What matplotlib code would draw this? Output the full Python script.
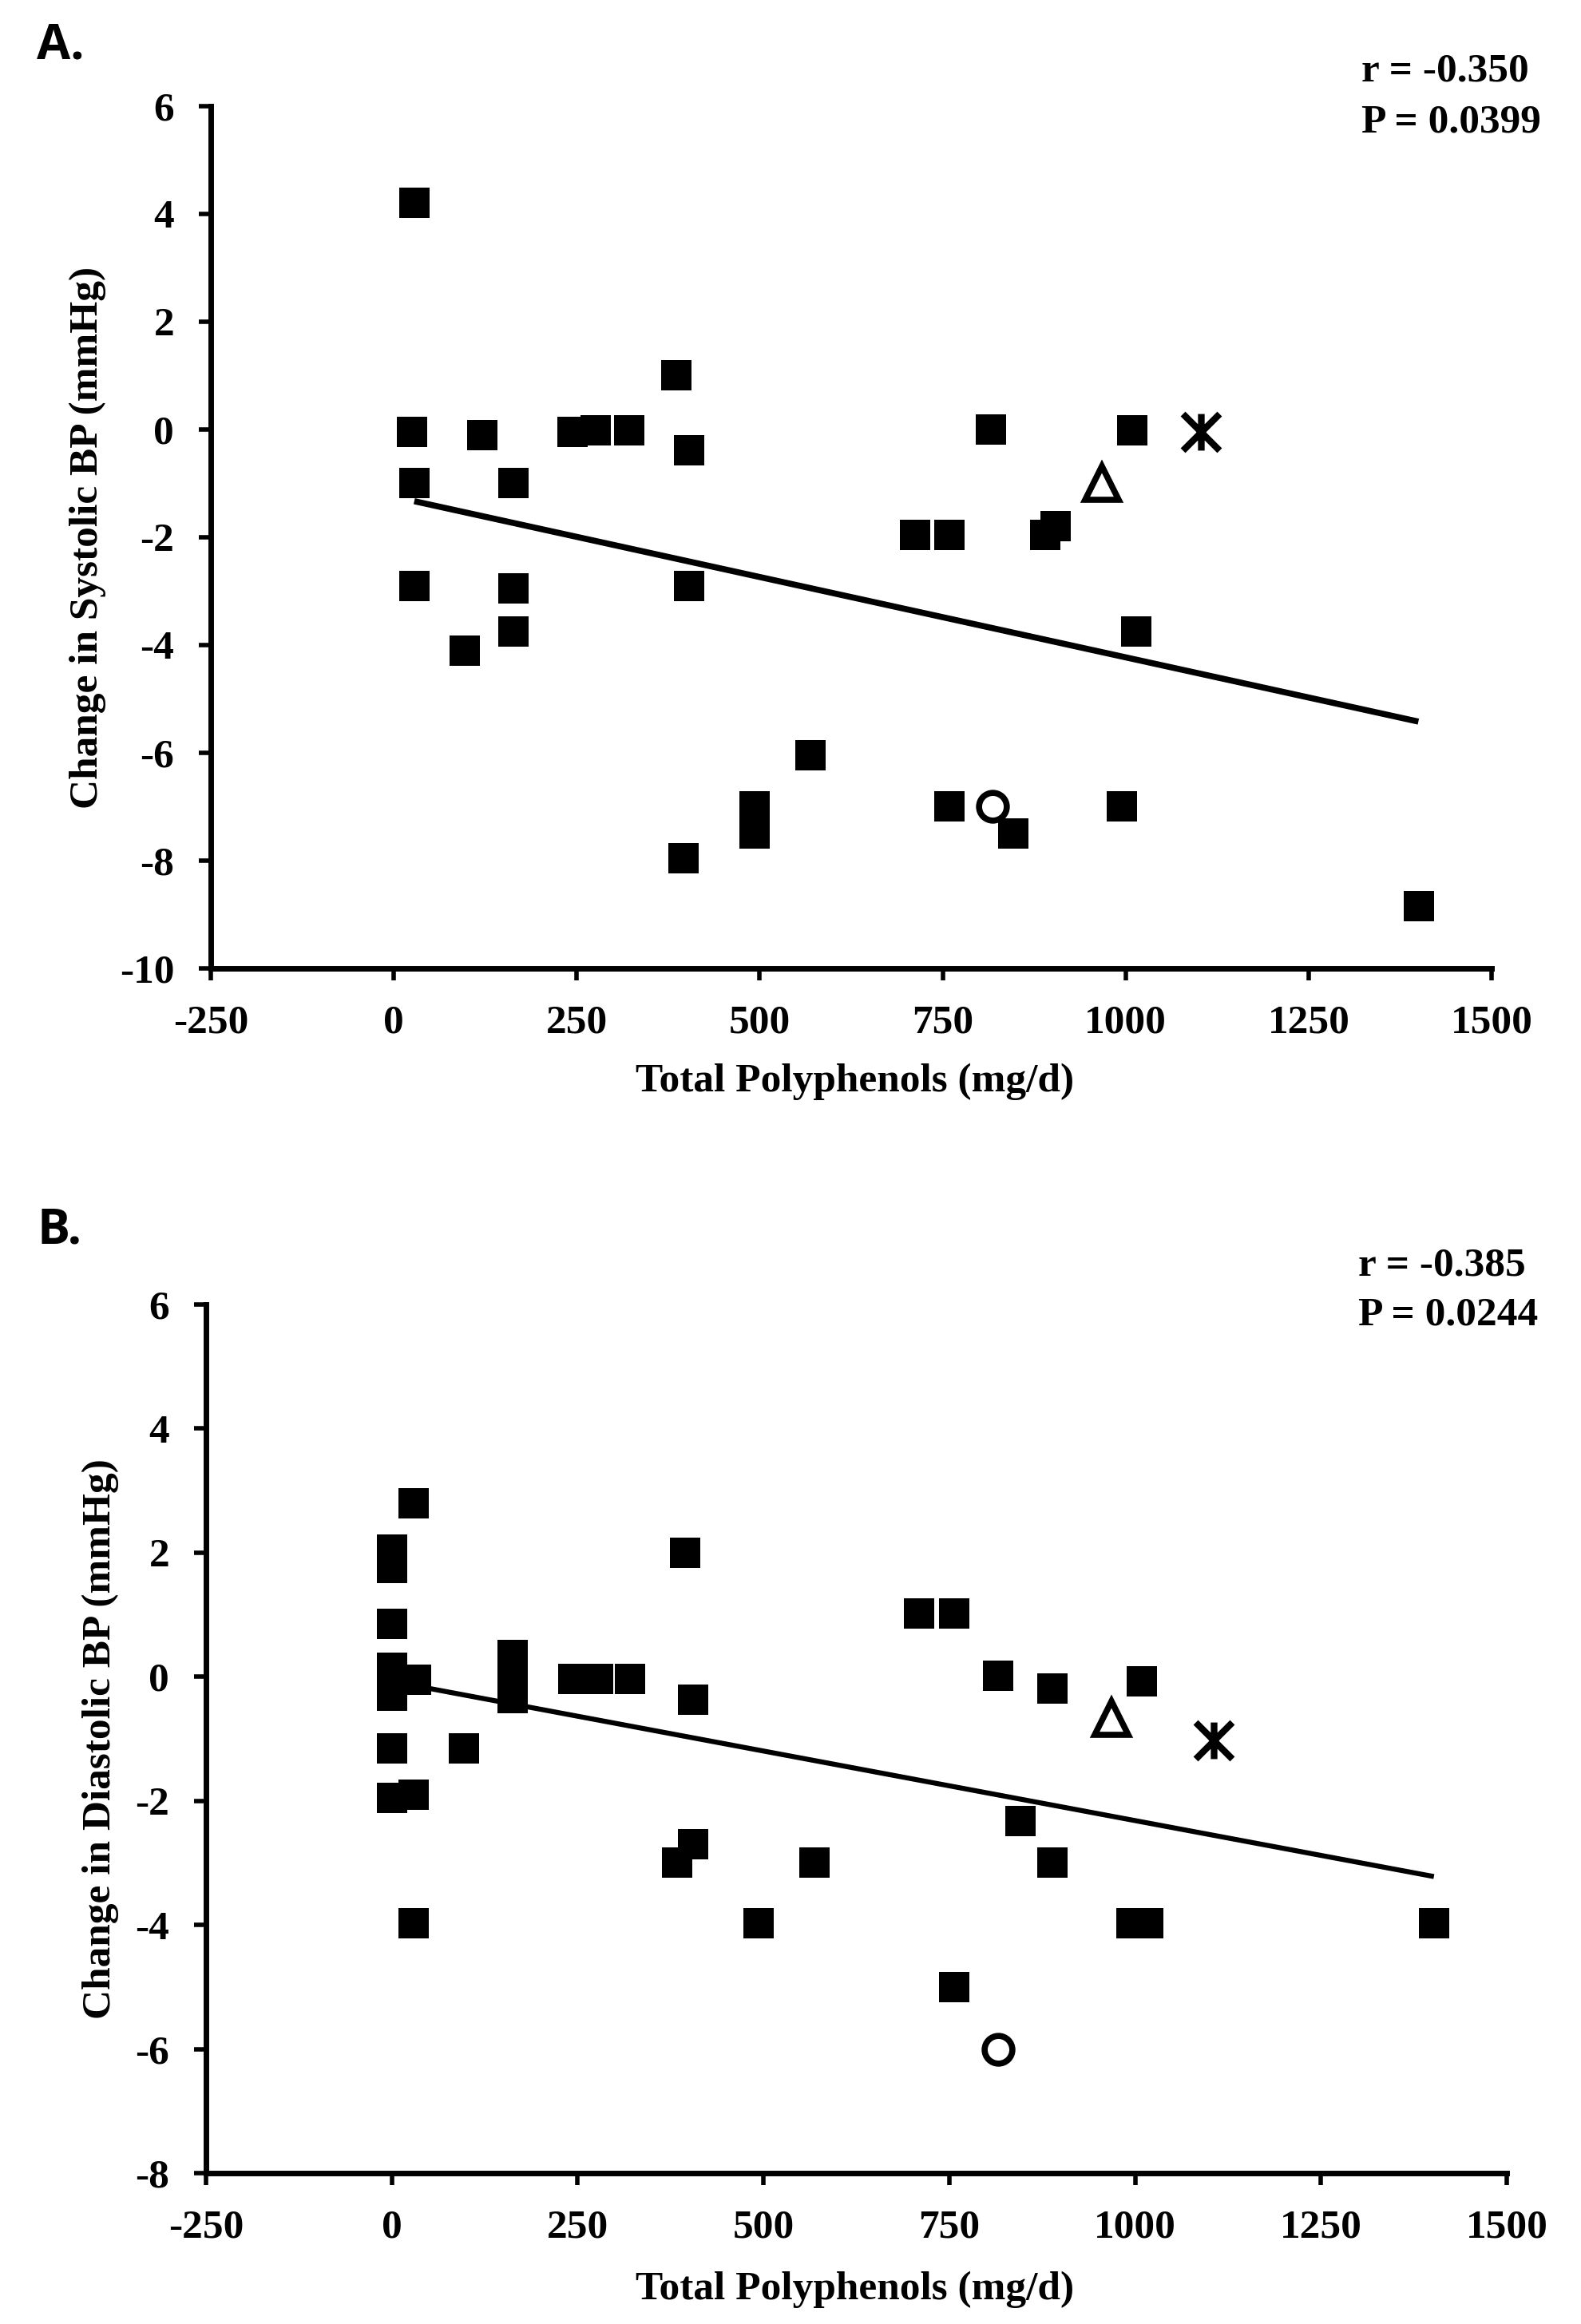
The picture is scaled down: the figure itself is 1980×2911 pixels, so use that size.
import matplotlib
matplotlib.use('Agg')
import matplotlib.pyplot as plt
from matplotlib.path import Path

# ---------------- Panel A: systolic ----------------
a_x = [28, 25, 28, 28, 97, 121, 164, 164, 164, 244,
       276, 322, 386, 404, 404, 396, 493, 493, 569, 712,
       759, 759, 816, 846, 890, 904, 1009, 995, 1014, 1401]
a_y = [4.2, -0.05, -1.0, -2.9, -4.1, -0.1, -1.0, -2.95, -3.75, -0.05,
       -0.02, -0.02, 1.0, -0.38, -2.9, -7.95, -7.0, -7.5, -6.05, -1.95,
       -1.95, -7.0, 0.0, -7.5, -1.95, -1.8, -0.02, -7.0, -3.75, -8.85]
a_circle = [818, -7.0]
a_triangle = [968, -1.0]
a_asterisk = [1103, -0.05]
a_trend_x = [28, 1400]
a_trend_y = [-1.33, -5.42]
a_stats = ["r = -0.350", "P = 0.0399"]

# ---------------- Panel B: diastolic ----------------
b_x = [0, 0, 0, 0, 0, 0, 0, 0,
       29, 33, 29, 29, 97, 163, 163, 163,
       244, 278, 320, 395, 405, 384, 405,
       493, 569, 709, 757, 757, 816, 846,
       889, 889, 1009, 995, 1018, 1402]
b_y = [2.05, 1.75, 0.85, 0.15, 0.0, -0.3, -1.15, -1.95,
       2.8, -0.05, -1.9, -3.97, -1.15, 0.35, 0.0, -0.35,
       -0.03, -0.03, -0.03, 2.0, -0.37, -3.0, -2.7,
       -3.97, -3.0, 1.02, 1.02, -5.0, 0.02, -2.32,
       -0.19, -3.0, -0.07, -3.97, -3.97, -3.97]
b_circle = [816, -6.0]
b_triangle = [968, -0.66]
b_asterisk = [1106, -1.03]
b_trend_x = [20, 1402]
b_trend_y = [-0.12, -3.22]
b_stats = ["r = -0.385", "P = 0.0244"]

x_ticks = [-250, 0, 250, 500, 750, 1000, 1250, 1500]
a_yticks = [-10, -8, -6, -4, -2, 0, 2, 4, 6]
b_yticks = [-8, -6, -4, -2, 0, 2, 4, 6]

SERIF = 'Liberation Serif'
FS = 37

asterisk_path = Path(
    [(0, -1), (0, 1), (-1, -1), (1, 1), (-1, 1), (1, -1)],
    [Path.MOVETO, Path.LINETO, Path.MOVETO, Path.LINETO, Path.MOVETO, Path.LINETO])

W, H = 1980.0, 2911.0
fig = plt.figure(figsize=(W / 100, H / 100), dpi=100)
fig.patch.set_facecolor('white')


def rect_px(l, r, t, b):
    return [l / W, 1 - b / H, (r - l) / W, (b - t) / H]


def panel(rect, xs, ys, circ, tri, ast, tx, ty, yticks, ylim, ylabel,
          xlabel_xy, ylabel_x, trend_lw):
    ax = fig.add_axes(rect)
    ax.plot(xs, ys, linestyle='none', marker='s', ms=28, mew=0, color='black',
            clip_on=False, zorder=3)
    ax.plot([circ[0]], [circ[1]], linestyle='none', marker='o', ms=25, mew=5.5,
            mfc='white', mec='black', clip_on=False, zorder=4)
    ax.plot([tri[0]], [tri[1]], linestyle='none', marker='^', ms=30, mew=5.5,
            mfc='white', mec='black', clip_on=False, zorder=4)
    ax.plot([ast[0]], [ast[1]], linestyle='none', marker=asterisk_path, ms=33,
            mew=6, mfc='none', mec='black', clip_on=False, zorder=4)
    ax.plot(tx, ty, color='black', lw=trend_lw, solid_capstyle='butt', zorder=2)
    ax.set_xlim(-250, 1500)
    ax.set_ylim(*ylim)
    ax.set_xticks(x_ticks)
    ax.set_xticklabels([str(v) for v in x_ticks])
    ax.set_yticks(yticks)
    ax.set_yticklabels([str(v) for v in yticks])
    for s in ['top', 'right']:
        ax.spines[s].set_visible(False)
    for s in ['left', 'bottom']:
        ax.spines[s].set_linewidth(5)
        ax.spines[s].set_capstyle('projecting')
    ax.tick_params(axis='both', direction='out', length=11, width=4,
                   labelsize=FS, pad=22)
    for lab in ax.get_xticklabels() + ax.get_yticklabels():
        lab.set_fontfamily(SERIF)
        lab.set_fontweight('bold')
    ax.set_facecolor('white')
    fig.text(ylabel_x, rect[1] + rect[3] / 2, ylabel, rotation=90,
             ha='center', va='center', fontsize=FS, fontweight='bold',
             family=SERIF)
    fig.text(xlabel_xy[0], xlabel_xy[1], 'Total Polyphenols (mg/d)',
             ha='center', va='center', fontsize=FS, fontweight='bold',
             family=SERIF)
    return ax


axA = panel(rect_px(264, 1868, 133, 1213), a_x, a_y, a_circle, a_triangle,
            a_asterisk, a_trend_x, a_trend_y, a_yticks, (-10, 6),
            'Change in Systolic BP (mmHg)', (1071 / W, 1 - 1355 / H),
            110 / W, 5.5)
axB = panel(rect_px(258, 1887, 1634, 2722), b_x, b_y, b_circle, b_triangle,
            b_asterisk, b_trend_x, b_trend_y, b_yticks, (-8, 6),
            'Change in Diastolic BP (mmHg)', (1071 / W, 1 - 2868 / H),
            126 / W, 4.5)

# stats text
fig.text(1705 / W, 1 - 90 / H, a_stats[0], ha='left', va='center', fontsize=FS,
         fontweight='bold', family=SERIF)
fig.text(1705 / W, 1 - 154 / H, a_stats[1], ha='left', va='center', fontsize=FS,
         fontweight='bold', family=SERIF)
fig.text(1701 / W, 1 - 1585 / H, b_stats[0], ha='left', va='center', fontsize=FS,
         fontweight='bold', family=SERIF)
fig.text(1701 / W, 1 - 1648 / H, b_stats[1], ha='left', va='center', fontsize=FS,
         fontweight='bold', family=SERIF)

# panel letters
fig.text(46 / W, 1 - 58 / H, 'A.', ha='left', va='center', fontsize=44,
         fontweight='bold', family='Open Sans')
fig.text(46 / W, 1 - 1542 / H, 'B.', ha='left', va='center', fontsize=44,
         fontweight='bold', family='Open Sans')

fig.savefig('out.png', dpi=100, facecolor='white')
